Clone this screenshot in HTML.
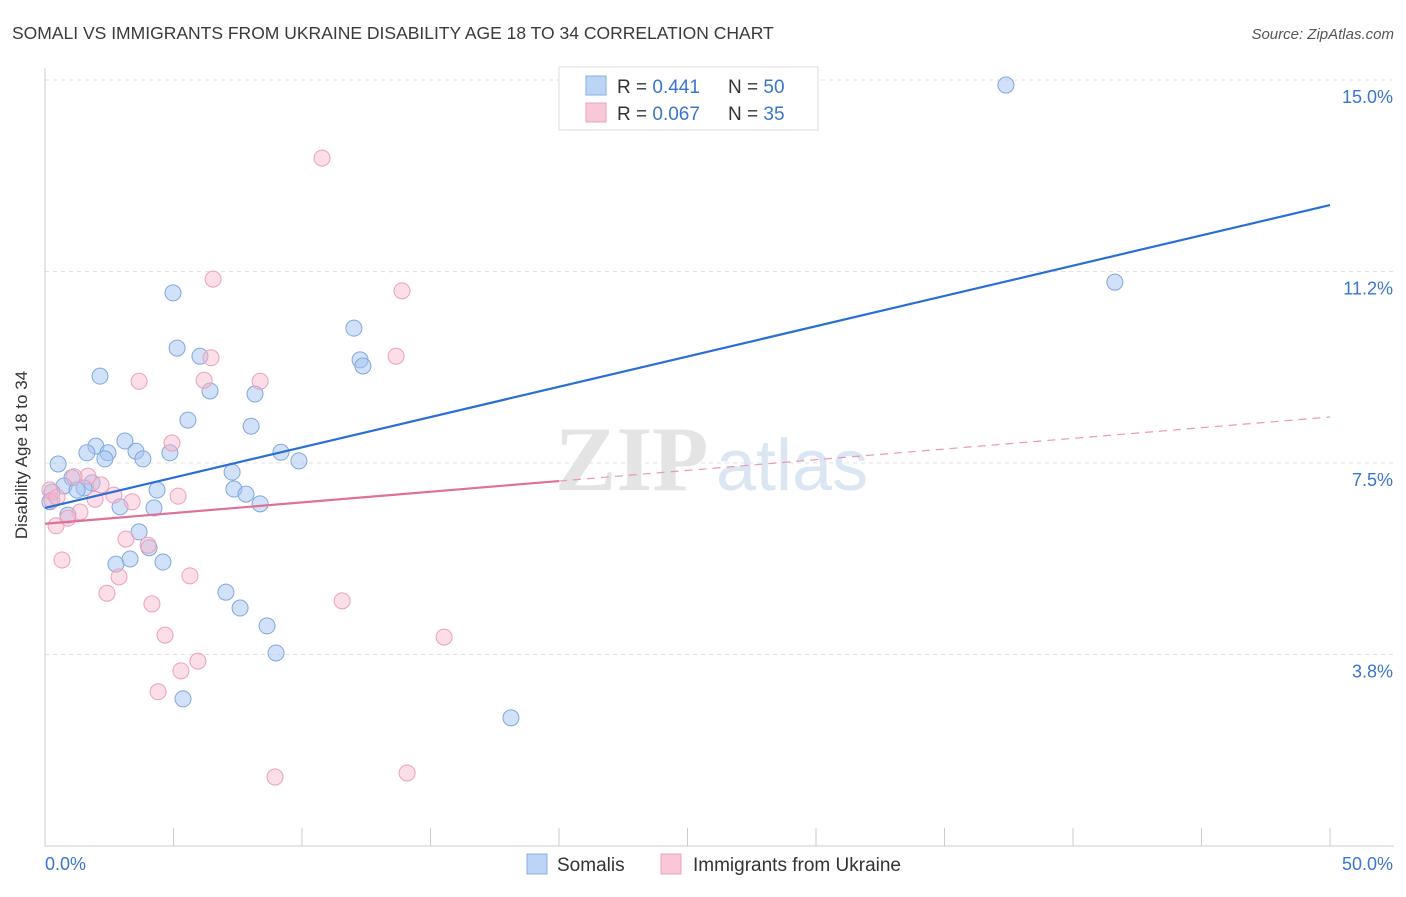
<!DOCTYPE html>
<html><head><meta charset="utf-8"><style>
body{margin:0;background:#fff;font-family:"Liberation Sans",sans-serif;}
</style></head><body>
<svg id="chart" width="1406" height="892" xmlns="http://www.w3.org/2000/svg">
<text x="12" y="39" font-size="17.5" fill="#3a3a3a">SOMALI VS IMMIGRANTS FROM UKRAINE DISABILITY AGE 18 TO 34 CORRELATION CHART</text>
<text x="1394" y="39" font-size="15" fill="#555" font-style="italic" text-anchor="end">Source: ZipAtlas.com</text>
<g id="grid"></g>
<g><text x="555" y="490" font-size="92" font-family="Liberation Serif" fill="#e4e4e4" font-weight="bold">ZIP</text><text x="716" y="490" font-size="72" fill="#dbe6f5">atlas</text></g>
<g id="pts"></g>
<g id="lines"></g>
<text x="27" y="455" font-size="17" fill="#333" text-anchor="middle" transform="rotate(-90 27 455)">Disability Age 18 to 34</text>
<g>
<rect x="559" y="67" width="259" height="63" fill="#fff" stroke="#ddd"/>
<rect x="586" y="76" width="20" height="19" fill="#bcd4f6" stroke="#8ab0e0"/>
<rect x="586" y="103" width="20" height="19" fill="#f9c8d8" stroke="#f0a0b8"/>
<text x="617" y="93" font-size="19" fill="#333">R = <tspan fill="#3a75d0">0.441</tspan><tspan x="728">N = </tspan><tspan fill="#3a75d0">50</tspan></text>
<text x="617" y="120" font-size="19" fill="#333">R = <tspan fill="#3a75d0">0.067</tspan><tspan x="728">N = </tspan><tspan fill="#3a75d0">35</tspan></text>
</g>
<g>
<rect x="527" y="854" width="20" height="20" fill="#bcd4f6" stroke="#8ab0e0"/>
<text x="557" y="871" font-size="19" fill="#333">Somalis</text>
<rect x="661" y="854" width="20" height="20" fill="#f9c8d8" stroke="#f0a0b8"/>
<text x="693" y="871" font-size="19" fill="#333">Immigrants from Ukraine</text>
</g>
<text x="45" y="870" font-size="18" fill="#3a75d0">0.0%</text>
<text x="1393" y="870" font-size="18" fill="#3a75d0" text-anchor="end">50.0%</text>
</svg>
<script>
const yTicks=[3.75,7.5,11.25,15];
const yTickLabels=["3.8%","7.5%","11.2%","15.0%"];
const xTicks=[0,5,10,15,20,25,30,35,40,45,50];
const somaliX=[37.39,41.63,4.98,12.02,5.14,12.26,12.37,6.03,2.14,6.42,8.17,5.56,8.02,3.11,1.98,1.63,2.45,3.54,4.86,3.81,2.33,9.18,9.88,0.51,7.28,1.05,1.83,0.74,1.52,1.25,4.36,7.35,7.82,0.27,0.19,2.92,4.24,8.37,0.89,3.66,4.05,2.76,3.31,4.59,7.04,7.59,8.64,8.99,5.37,18.13];
const somaliY=[14.90,11.04,10.83,10.14,9.75,9.52,9.40,9.59,9.20,8.91,8.85,8.34,8.22,7.93,7.83,7.70,7.70,7.73,7.70,7.58,7.58,7.71,7.54,7.48,7.32,7.21,7.11,7.05,7.01,6.97,6.97,6.99,6.89,6.93,6.74,6.64,6.62,6.70,6.48,6.15,5.84,5.52,5.62,5.56,4.97,4.66,4.31,3.78,2.88,2.51];
const ukrX=[10.78,6.54,13.89,6.46,13.66,3.66,6.19,8.37,4.94,1.67,1.13,2.18,2.68,5.18,1.95,3.39,0.19,0.27,0.47,1.36,0.89,0.43,3.15,4.01,0.66,2.88,5.64,2.41,4.16,11.56,4.67,15.53,5.95,5.29,4.40,8.95,14.09];
const ukrY=[13.47,11.10,10.87,9.56,9.59,9.10,9.12,9.10,7.89,7.24,7.23,7.07,6.87,6.85,6.79,6.74,6.97,6.77,6.83,6.54,6.42,6.27,6.01,5.89,5.60,5.27,5.29,4.95,4.74,4.80,4.13,4.09,3.62,3.43,3.02,1.35,1.43];
const somaliTrend=[6.62,12.55];
const ukrTrend=[6.31,8.40];
const NS="http://www.w3.org/2000/svg";
const X=v=>45+v*25.7, Y=v=>846-v*51.07;
function mk(tag,attrs,parent){const e=document.createElementNS(NS,tag);for(const k in attrs)e.setAttribute(k,attrs[k]);parent.appendChild(e);return e;}
const grid=document.getElementById('grid');
yTicks.forEach((t,i)=>{
 const l=mk('line',{x1:45,x2:1394,y1:Y(t),y2:Y(t),stroke:'#e2e2e2','stroke-dasharray':'4,4'},grid);
 
 
 const tx=mk('text',{x:1393,y:Y(t)+23,'font-size':18,fill:'#3a75d0','text-anchor':'end'},grid);
 tx.textContent=yTickLabels[i];
 
 
});
const ax=mk('line',{x1:45,x2:45,y1:68,y2:846,stroke:'#ccc'},grid);


const bx=mk('line',{x1:45,x2:1394,y1:846,y2:846,stroke:'#ccc'},grid);


xTicks.forEach(t=>{
 const l=mk('line',{x1:X(t),x2:X(t),y1:828,y2:846,stroke:'#ccc'},grid);
 
 
});
const pts=document.getElementById('pts');
somaliX.forEach((v,i)=>{
 const c=mk('circle',{cx:X(v),cy:Y(somaliY[i]),r:8,fill:'rgba(164,196,240,0.5)',stroke:'#7fa8de','stroke-width':1},pts);
 
 
});
ukrX.forEach((v,i)=>{
 const c=mk('circle',{cx:X(v),cy:Y(ukrY[i]),r:8,fill:'rgba(246,182,202,0.45)',stroke:'#eea0b8','stroke-width':1},pts);
 
 
});
const lines=document.getElementById('lines');
const bl=mk('line',{x1:X(0),y1:Y(somaliTrend[0]),x2:X(50),y2:Y(somaliTrend[1]),stroke:'#2a6fd6','stroke-width':2.2},lines);


const ym=ukrTrend[0]+(ukrTrend[1]-ukrTrend[0])*0.4;
const pl=mk('line',{x1:X(0),y1:Y(ukrTrend[0]),x2:X(20),y2:Y(ym),stroke:'#e0709a','stroke-width':2.2},lines);


const pd=mk('line',{x1:X(20),y1:Y(ym),x2:X(50),y2:Y(ukrTrend[1]),stroke:'#e898b4','stroke-width':1.2,'stroke-dasharray':'8,6'},lines);


</script>
</body></html>
